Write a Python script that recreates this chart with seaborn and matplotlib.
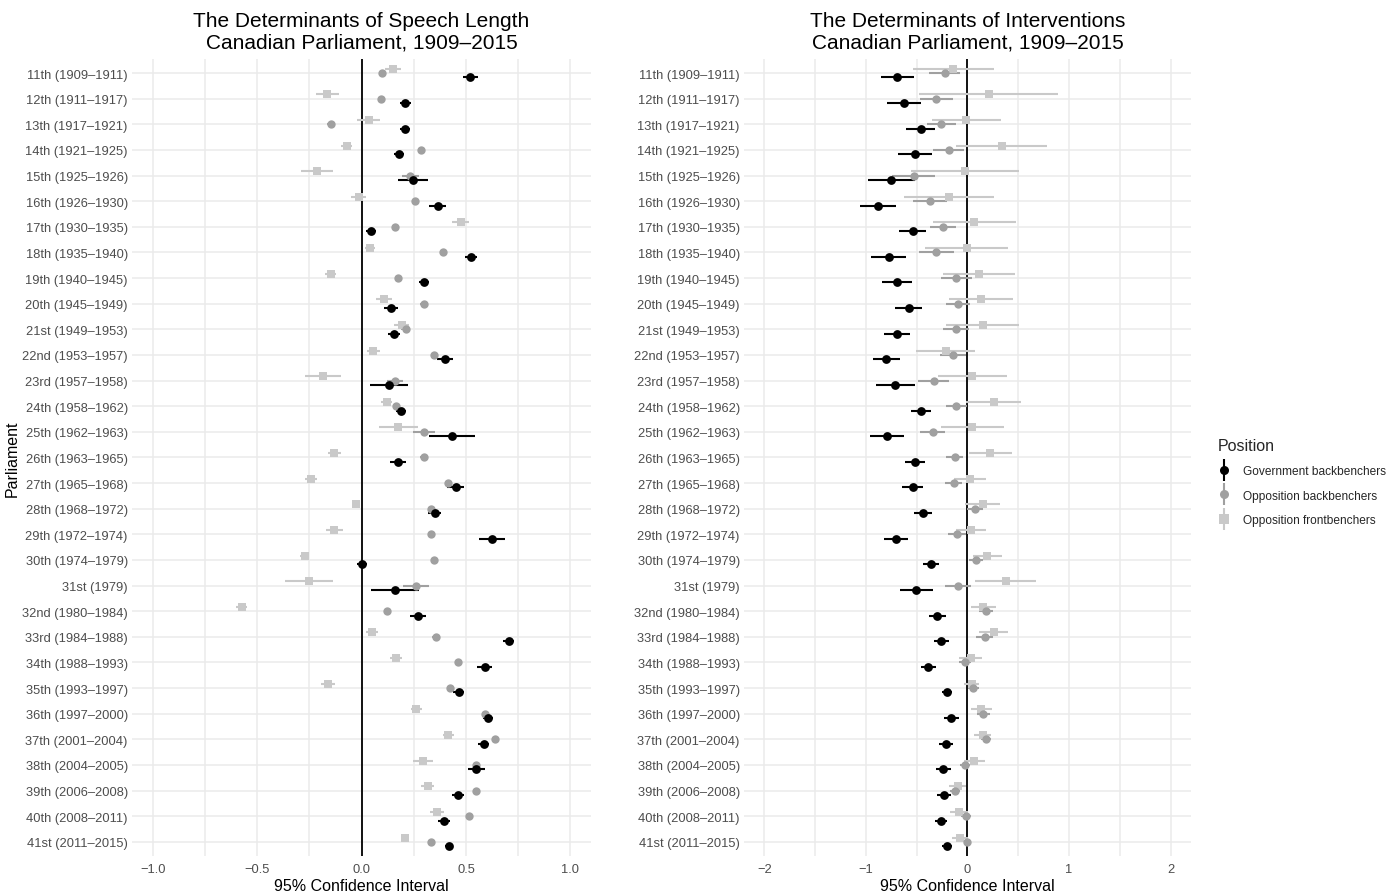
import numpy as np
import pandas as pd
import matplotlib
matplotlib.use("Agg")
import matplotlib.pyplot as plt
from matplotlib.lines import Line2D
from matplotlib.ticker import MultipleLocator
import seaborn as sns

# Parliaments (rows, top to bottom)
ordinals = ['11th', '12th', '13th', '14th', '15th', '16th', '17th', '18th', '19th', '20th',
            '21st', '22nd', '23rd', '24th', '25th', '26th', '27th', '28th', '29th', '30th',
            '31st', '32nd', '33rd', '34th', '35th', '36th', '37th', '38th', '39th', '40th', '41st']
periods = ['1909–1911', '1911–1917', '1917–1921', '1921–1925', '1925–1926', '1926–1930',
           '1930–1935', '1935–1940', '1940–1945', '1945–1949', '1949–1953', '1953–1957',
           '1957–1958', '1958–1962', '1962–1963', '1963–1965', '1965–1968', '1968–1972',
           '1972–1974', '1974–1979', '1979', '1980–1984', '1984–1988', '1988–1993',
           '1993–1997', '1997–2000', '2001–2004', '2004–2005', '2006–2008', '2008–2011',
           '2011–2015']
parliaments = [f'{o} ({p})' for o, p in zip(ordinals, periods)]

positions = ['Government backbenchers', 'Opposition backbenchers', 'Opposition frontbenchers']

# Speech length: estimates and CI half widths
gb_speech = [0.52, 0.21, 0.21, 0.18, 0.245, 0.365, 0.045, 0.525, 0.30, 0.14, 0.155, 0.40, 0.13,
             0.19, 0.435, 0.175, 0.45, 0.35, 0.625, 0.0, 0.16, 0.27, 0.705, 0.59, 0.465, 0.605,
             0.585, 0.55, 0.46, 0.395, 0.42]
gb_speech_err = [0.036, 0.027, 0.024, 0.025, 0.073, 0.041, 0.024, 0.029, 0.025, 0.032, 0.029,
                 0.038, 0.091, 0.024, 0.11, 0.038, 0.041, 0.032, 0.064, 0.024, 0.113, 0.037,
                 0.027, 0.035, 0.027, 0.024, 0.027, 0.04, 0.029, 0.03, 0.019]
ob_speech = [0.096, 0.093, -0.149, 0.284, 0.233, 0.257, 0.162, 0.391, 0.176, 0.297, 0.211,
             0.349, 0.16, 0.165, 0.30, 0.297, 0.415, 0.332, 0.332, 0.346, 0.262, 0.12, 0.354,
             0.461, 0.424, 0.59, 0.64, 0.548, 0.548, 0.515, 0.332]
ob_speech_err = [0.015, 0.015, 0.015, 0.015, 0.04, 0.015, 0.015, 0.015, 0.015, 0.015, 0.02,
                 0.015, 0.04, 0.015, 0.053, 0.015, 0.015, 0.015, 0.015, 0.015, 0.063, 0.015,
                 0.015, 0.015, 0.015, 0.015, 0.015, 0.015, 0.015, 0.015, 0.015]
fb_speech = [0.152, -0.165, 0.033, -0.072, -0.214, -0.014, 0.475, 0.042, -0.149, 0.107, 0.192,
             0.056, -0.187, 0.12, 0.176, -0.13, -0.244, -0.029, -0.131, -0.273, -0.252, -0.574,
             0.05, 0.166, -0.161, 0.262, 0.416, 0.294, 0.316, 0.36, 0.209]
fb_speech_err = [0.038, 0.055, 0.054, 0.027, 0.075, 0.037, 0.041, 0.024, 0.027, 0.04, 0.035,
                 0.032, 0.086, 0.025, 0.092, 0.029, 0.029, 0.015, 0.041, 0.022, 0.117, 0.027,
                 0.027, 0.029, 0.032, 0.027, 0.027, 0.046, 0.032, 0.033, 0.019]

# Interventions
gb_int = [-0.692, -0.623, -0.462, -0.515, -0.751, -0.879, -0.538, -0.777, -0.692, -0.58, -0.695,
          -0.797, -0.711, -0.459, -0.79, -0.518, -0.541, -0.439, -0.702, -0.357, -0.505, -0.295,
          -0.256, -0.384, -0.203, -0.161, -0.213, -0.239, -0.23, -0.259, -0.203]
gb_int_err = [0.164, 0.167, 0.14, 0.164, 0.233, 0.18, 0.133, 0.17, 0.146, 0.131, 0.126, 0.133,
              0.19, 0.1, 0.169, 0.1, 0.102, 0.092, 0.118, 0.079, 0.161, 0.084, 0.074, 0.077,
              0.05, 0.074, 0.067, 0.074, 0.066, 0.062, 0.05]
ob_int = [-0.226, -0.305, -0.256, -0.184, -0.531, -0.37, -0.239, -0.305, -0.108, -0.095, -0.115,
          -0.141, -0.334, -0.108, -0.344, -0.125, -0.134, 0.072, -0.102, 0.082, -0.098, 0.184,
          0.17, -0.023, 0.059, 0.157, 0.18, -0.023, -0.125, -0.016, 0.0]
ob_int_err = [0.157, 0.167, 0.14, 0.154, 0.207, 0.164, 0.13, 0.177, 0.149, 0.115, 0.128, 0.128,
              0.152, 0.108, 0.126, 0.082, 0.085, 0.08, 0.09, 0.066, 0.128, 0.066, 0.082, 0.06,
              0.05, 0.066, 0.05, 0.05, 0.05, 0.05, 0.033]
fb_int = [-0.138, 0.21, -0.013, 0.338, -0.023, -0.177, 0.069, -0.007, 0.118, 0.138, 0.151,
          -0.216, 0.046, 0.259, 0.046, 0.226, 0.023, 0.148, 0.036, 0.197, 0.377, 0.157, 0.259,
          0.03, 0.043, 0.138, 0.148, 0.069, -0.098, -0.082, -0.072]
fb_int_err = [0.40, 0.685, 0.341, 0.446, 0.528, 0.443, 0.405, 0.41, 0.354, 0.315, 0.36, 0.289,
              0.339, 0.272, 0.311, 0.21, 0.16, 0.172, 0.148, 0.141, 0.30, 0.12, 0.144, 0.11,
              0.074, 0.103, 0.087, 0.108, 0.085, 0.092, 0.077]

colors = {'Government backbenchers': '#000000',
          'Opposition backbenchers': '#A0A0A0',
          'Opposition frontbenchers': '#C9C9C9'}
markers = {'Government backbenchers': 'o',
           'Opposition backbenchers': 'o',
           'Opposition frontbenchers': 's'}
sizes = {'Government backbenchers': 40, 'Opposition backbenchers': 36,
         'Opposition frontbenchers': 34}
dodge = {'Government backbenchers': 0.17, 'Opposition backbenchers': 0.0,
         'Opposition frontbenchers': -0.17}


def long_frame(series):
    rows = []
    for pos, (est, err) in zip(positions, series):
        for i, (e, h) in enumerate(zip(est, err)):
            rows.append({'Parliament': parliaments[i], 'row': i, 'Position': pos,
                         'estimate': e, 'lo': e - h, 'hi': e + h})
    df = pd.DataFrame(rows)
    df['y'] = df['row'] + df['Position'].map(dodge)
    return df


speech = long_frame([(gb_speech, gb_speech_err), (ob_speech, ob_speech_err),
                     (fb_speech, fb_speech_err)])
interv = long_frame([(gb_int, gb_int_err), (ob_int, ob_int_err), (fb_int, fb_int_err)])

sns.set_theme(style='white')
plt.rcParams['font.family'] = ['Liberation Sans', 'DejaVu Sans']

fig = plt.figure(figsize=(14, 8.95), dpi=100)
ax1 = fig.add_axes([0.0943, 0.0425, 0.328, 0.8905])
ax2 = fig.add_axes([0.5314, 0.0425, 0.3193, 0.8905])


def draw_panel(ax, df, lim, major, minor, title):
    ax.set_xlim(-lim, lim)
    ax.set_ylim(len(parliaments) - 0.45, -0.55)
    ax.xaxis.set_major_locator(MultipleLocator(major))
    ax.xaxis.set_minor_locator(MultipleLocator(minor))
    ax.set_yticks(range(len(parliaments)))
    ax.set_yticklabels(parliaments)
    ax.grid(which='major', axis='both', color='#EBEBEB', linewidth=1.1, zorder=0)
    ax.grid(which='minor', axis='x', color='#EBEBEB', linewidth=1.1, zorder=0)
    ax.set_axisbelow(True)
    for s in ax.spines.values():
        s.set_visible(False)
    ax.tick_params(which='both', length=0, labelsize=9.3, labelcolor='#4D4D4D', pad=3)
    ax.tick_params(axis='x', pad=5)
    ax.axvline(0, color='black', linewidth=1.3, zorder=1)

    for pos in reversed(positions):
        sub = df[df['Position'] == pos]
        ax.hlines(sub['y'], sub['lo'], sub['hi'], color=colors[pos], linewidth=1.5, zorder=2)
        sns.scatterplot(data=sub, x='estimate', y='y', color=colors[pos], marker=markers[pos],
                        s=sizes[pos], linewidth=0, ax=ax, legend=False, zorder=3)
    ax.set_xlabel('95% Confidence Interval', fontsize=11.5, color='black', labelpad=2)
    ax.set_ylabel('')
    ax.set_title(title, fontsize=15, color='black', pad=8, linespacing=1.2)


draw_panel(ax1, speech, 1.1, 0.5, 0.25,
           'The Determinants of Speech Length\nCanadian Parliament, 1909–2015')
draw_panel(ax2, interv, 2.2, 1, 0.5,
           'The Determinants of Interventions\nCanadian Parliament, 1909–2015')
ax1.set_ylabel('Parliament', fontsize=11.5, color='black', labelpad=2)

handles = []
for pos in positions:
    bar = Line2D([], [], marker='|', markersize=16, markeredgewidth=1.5,
                 color=colors[pos], linestyle='none')
    pt = Line2D([], [], marker=markers[pos], markersize=6.5, color=colors[pos],
                linestyle='none', markeredgewidth=0)
    handles.append((bar, pt))
leg = fig.legend(handles, positions, loc='upper left', bbox_to_anchor=(0.862, 0.522),
                 frameon=False, title='Position', fontsize=8.6, title_fontsize=11.5,
                 handlelength=1.0, handletextpad=1.1, labelspacing=1.05)
leg._legend_box.align = 'left'

fig.savefig('out.png', dpi=100)
